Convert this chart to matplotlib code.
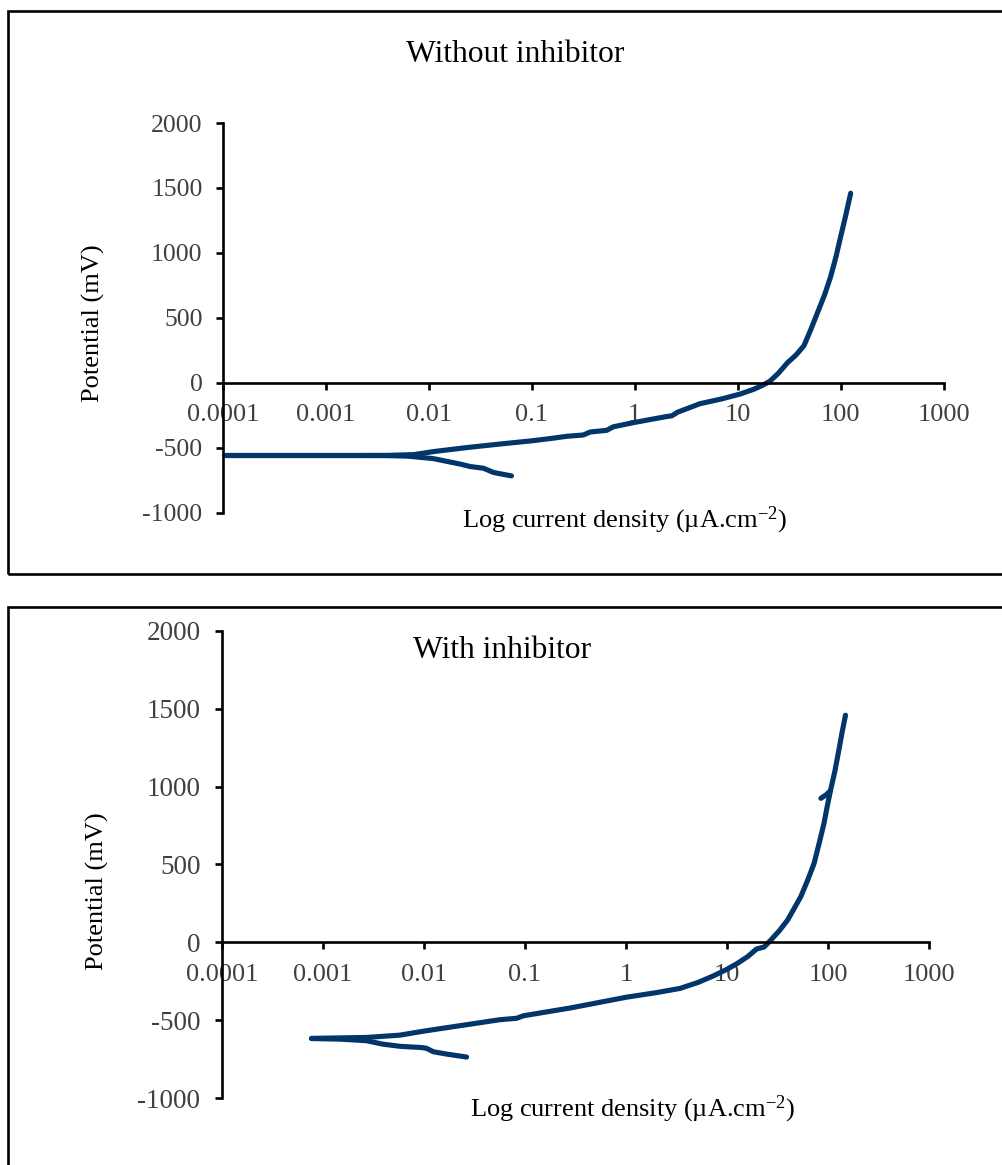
"""Tafel polarisation curves, with / without inhibitor"""
import matplotlib
matplotlib.use('Agg')
import matplotlib.pyplot as plt
from matplotlib.patches import Rectangle
from matplotlib.ticker import NullLocator

plt.rcParams.update({
    'font.family': ['Liberation Serif', 'DejaVu Serif'],
    'mathtext.fontset': 'custom',
    'mathtext.rm': 'Liberation Serif',
    'mathtext.it': 'Liberation Serif:italic',
    'axes.unicode_minus': False,
})

W, H = 1003, 1165
LINE = '#02366b'

# ---- data (current density in uA/cm2, potential in mV) ----
# without inhibitor
i_cat_blank = [0.000105, 0.001, 0.004, 0.0063, 0.0111, 0.0205, 0.0253, 0.034, 0.0427, 0.0636]
E_cat_blank = [-561, -561, -562, -566, -585, -628, -646, -659, -692, -718]
i_an_blank = [0.000105, 0.001, 0.004, 0.0072, 0.0111, 0.0234, 0.05, 0.1, 0.16, 0.22, 0.317,
              0.37, 0.535, 0.62, 0.97, 2.0, 2.3, 2.6, 4.3, 7.0, 10.5, 14.2, 17.5, 20.6, 25.0,
              30.3, 37, 44, 51, 59.4, 70, 80, 90, 100, 112, 125]
E_an_blank = [-561, -561, -560, -554, -531, -500, -472, -448, -428, -413, -403,
              -380, -367, -340, -308, -262, -255, -228, -162, -125, -88, -52, -20, 12, 75,
              152, 215, 285, 405, 537, 680, 818, 970, 1125, 1290, 1459]

# with inhibitor
i_cat_inh = [0.00077, 0.0015, 0.0027, 0.0039, 0.0058, 0.0095, 0.0106, 0.0124, 0.0168, 0.0264]
E_cat_inh = [-618, -622, -632, -654, -668, -676, -681, -703, -718, -737]
i_an_inh = [0.00077, 0.0027, 0.0058, 0.0105, 0.0565, 0.0826, 0.096, 0.279, 1.0, 2.0, 3.43,
            5.2, 7.3, 9.8, 12.4, 16.0, 19.6, 23.3, 27.2, 33, 39.8, 46, 53.7, 63, 72.8,
            82, 91.3, 98, 106, 117, 128, 138, 149]
E_an_inh = [-617, -611, -596, -568, -497, -488, -472, -422, -353, -323, -296,
            -257, -216, -176, -139, -92, -43, -30, 15, 75, 143, 215, 293, 400, 507,
            640, 765, 870, 977, 1100, 1234, 1350, 1459]
i_hook_inh = [85, 96, 105]
E_hook_inh = [925, 948, 972]

xticks = [1e-4, 1e-3, 1e-2, 1e-1, 1, 10, 100, 1000]
xticklabels = ['0.0001', '0.001', '0.01', '0.1', '1', '10', '100', '1000']
yticks = [-1000, -500, 0, 500, 1000, 1500, 2000]

fig = plt.figure(figsize=(W / 100, H / 100), dpi=100)

# outer frames (run off the right / bottom edge like the source)
fig.add_artist(Rectangle((8 / W, 1 - 574 / H), 1.2, (574 - 10.5) / H, transform=fig.transFigure,
                         fill=False, lw=1.9, ec='black'))
fig.add_artist(Rectangle((8 / W, -0.2), 1.2, 0.2 + 1 - 607 / H, transform=fig.transFigure,
                         fill=False, lw=1.9, ec='black'))


def style(ax, ysize, ypad):
    ax.set_xscale('log')
    ax.set_xlim(1e-4, 1e3)
    ax.set_ylim(-1000, 2000)
    for s in ['top', 'right']:
        ax.spines[s].set_visible(False)
    ax.spines['bottom'].set_position(('data', 0))
    for s in ['left', 'bottom']:
        ax.spines[s].set_linewidth(1.9)
    ax.set_xticks(xticks)
    ax.set_xticklabels(xticklabels)
    ax.xaxis.set_minor_locator(NullLocator())
    ax.set_yticks(yticks)
    ax.set_yticklabels([str(v) for v in yticks])
    ax.tick_params(axis='x', direction='out', length=5, width=1.9, pad=10.5,
                   labelsize=19, labelcolor='#404040')
    ax.tick_params(axis='y', direction='out', length=5, width=1.9, pad=ypad,
                   labelsize=ysize, labelcolor='#404040')
    ax.patch.set_alpha(0)


# Panel 1: without inhibitor
ax1 = fig.add_axes([222.7 / W, 1 - 512.5 / H, 721 / W, 389.5 / H])
style(ax1, 18.5, 9.5)
ax1.plot(i_cat_blank, E_cat_blank, color=LINE, lw=3.7, solid_capstyle='round', clip_on=False)
ax1.plot(i_an_blank, E_an_blank, color=LINE, lw=3.7, solid_capstyle='round', clip_on=False)
fig.text(515 / W, 1 - 61.7 / H, 'Without inhibitor', ha='center', va='baseline', fontsize=22.7)
fig.text(93.3 / W, 1 - 323 / H, 'Potential (mV)', rotation=90, ha='center', va='center', fontsize=19)
fig.text(625 / W, 1 - 527.7 / H, 'Log current density (µA.cm$^{-2}$)', ha='center', va='baseline',
         fontsize=19)

# Panel 2: with inhibitor
ax2 = fig.add_axes([222 / W, 1 - 1098 / H, 707 / W, 467 / H])
style(ax2, 19.5, 10.5)
ax2.plot(i_cat_inh, E_cat_inh, color=LINE, lw=3.7, solid_capstyle='round', clip_on=False)
ax2.plot(i_an_inh, E_an_inh, color=LINE, lw=3.7, solid_capstyle='round', clip_on=False)
ax2.plot(i_hook_inh, E_hook_inh, color=LINE, lw=3.7, solid_capstyle='round', clip_on=False)
fig.text(502 / W, 1 - 658 / H, 'With inhibitor', ha='center', va='baseline', fontsize=22.7)
fig.text(97.5 / W, 1 - 891.5 / H, 'Potential (mV)', rotation=90, ha='center', va='center', fontsize=19)
fig.text(633 / W, 1 - 1116 / H, 'Log current density (µA.cm$^{-2}$)', ha='center', va='baseline',
         fontsize=19)

fig.savefig('out.png', dpi=100)
plt.close()
